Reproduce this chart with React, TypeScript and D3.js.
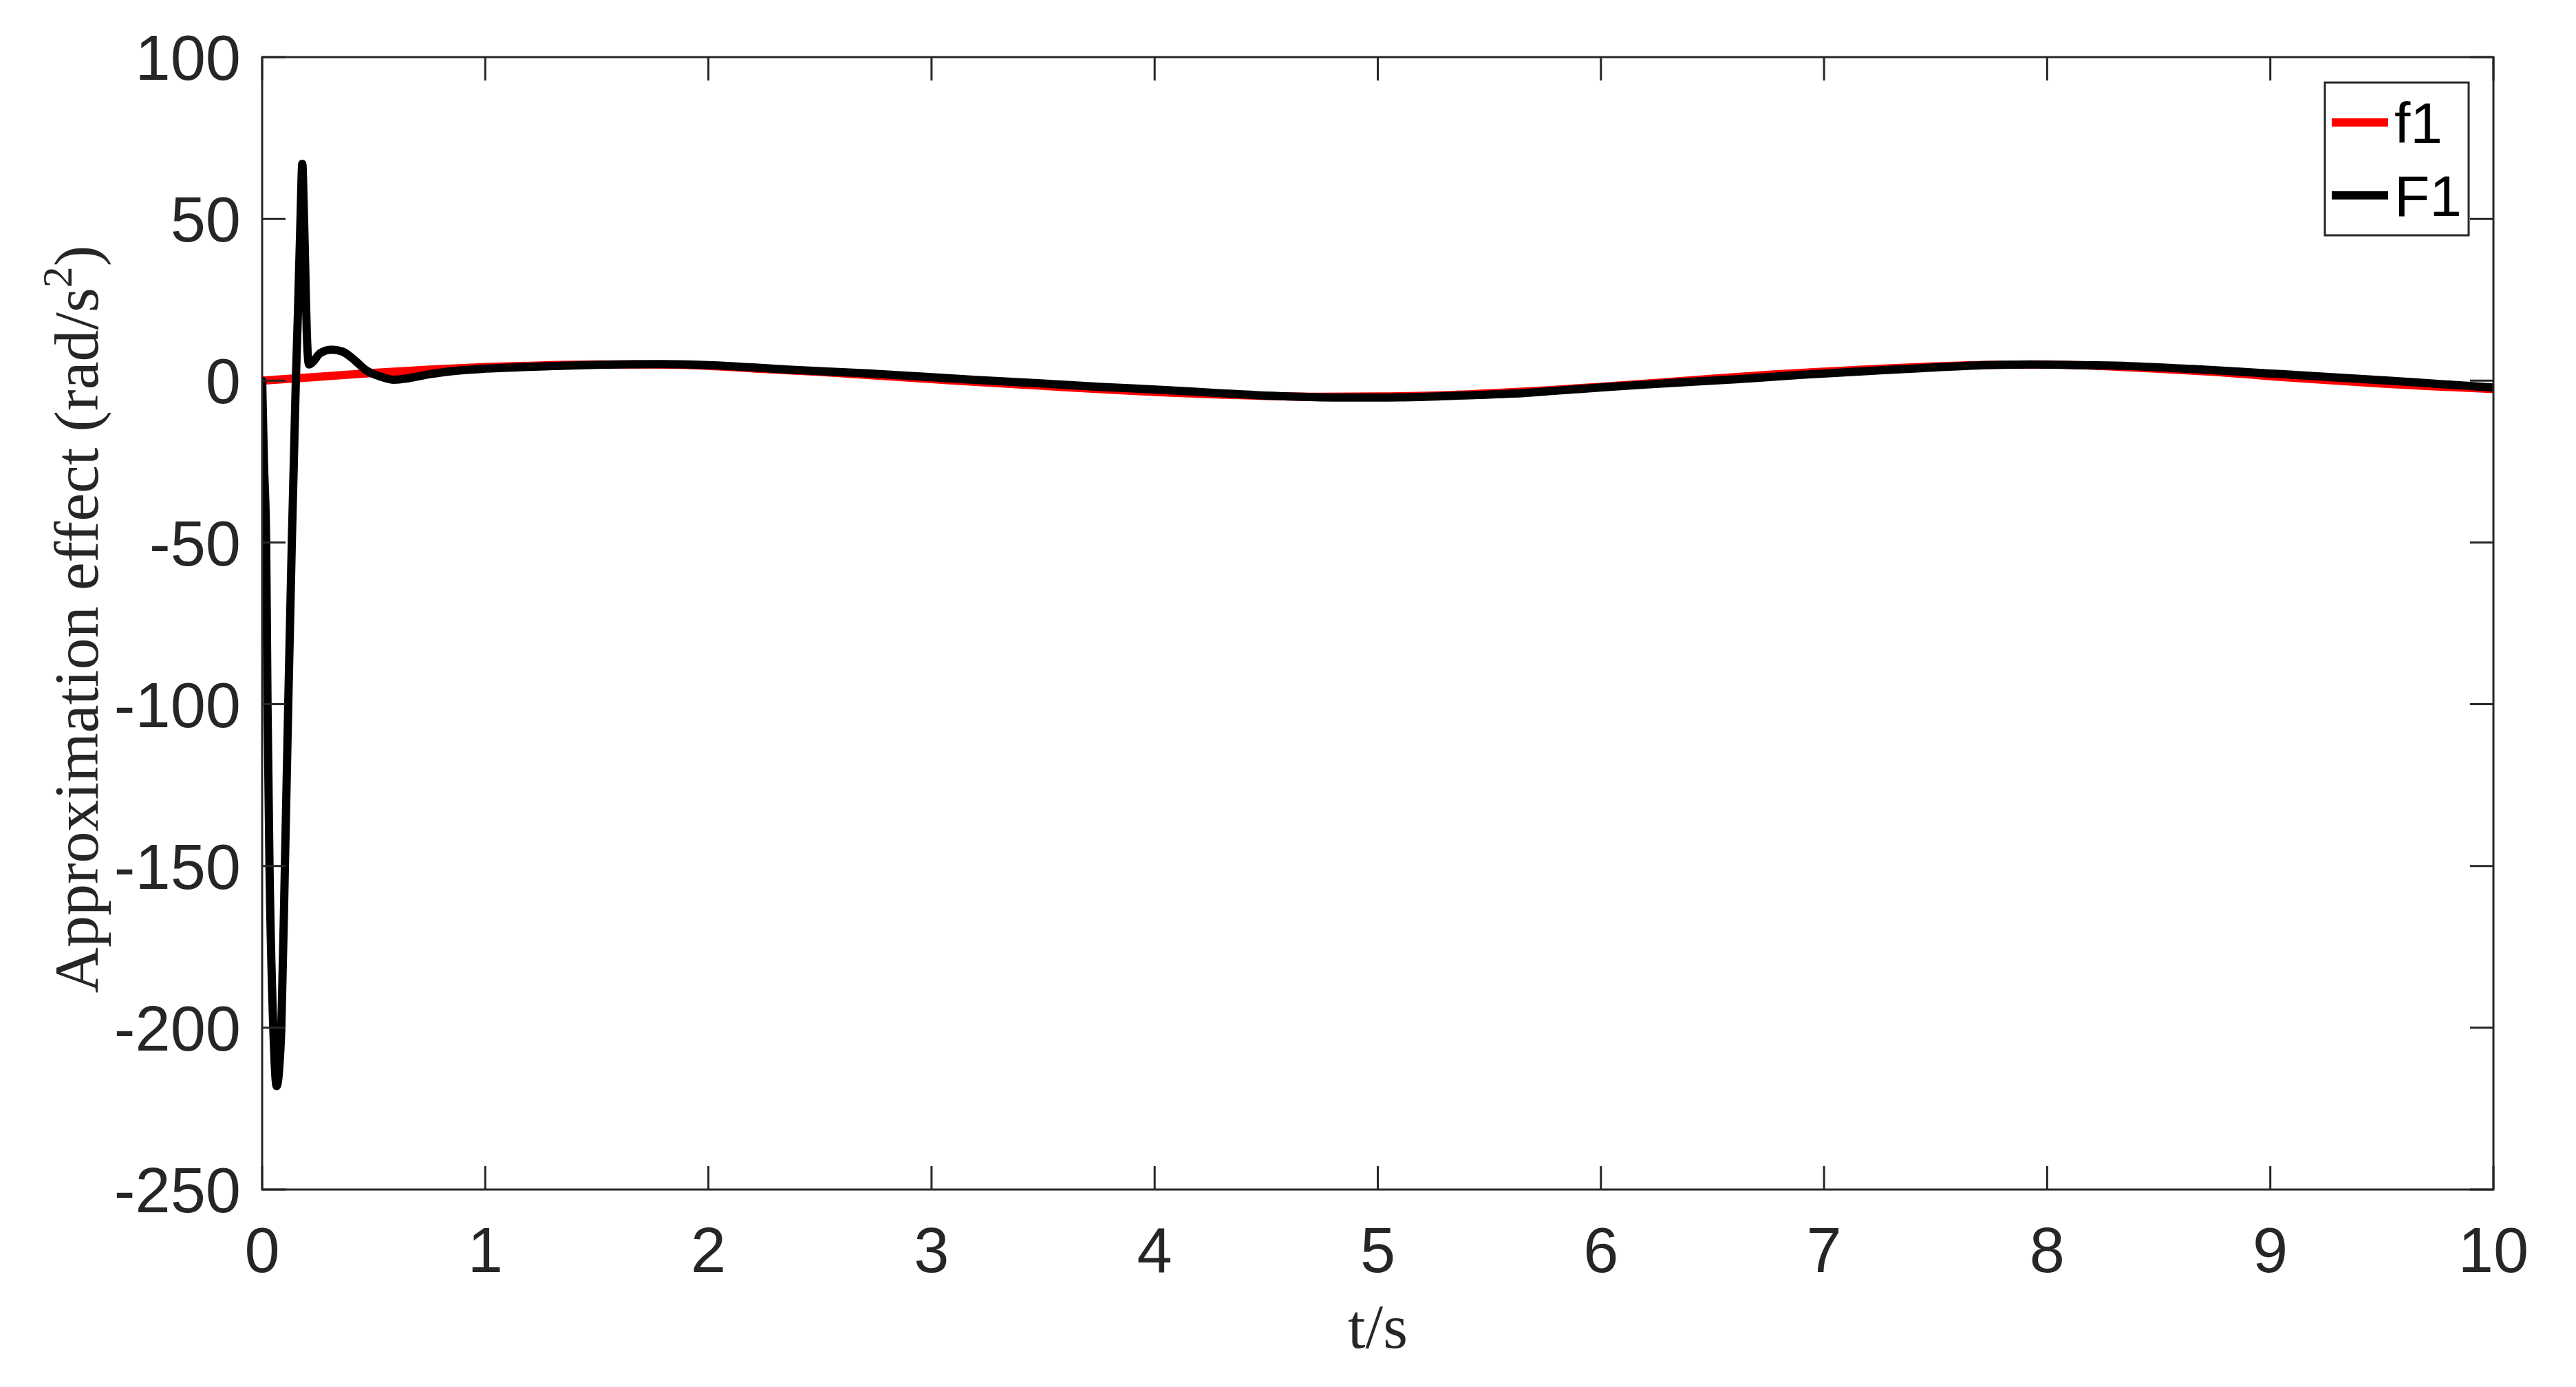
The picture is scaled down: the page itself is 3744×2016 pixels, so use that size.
import React, { useEffect } from "react";
import * as d3 from "d3";

// ---- data ----
const f1Time = [0, 0.25, 0.5, 0.75, 1.0, 1.25, 1.5, 1.75, 2.0, 2.25, 2.5, 2.75, 3.0, 3.25, 3.5, 3.75, 4.0, 4.25, 4.5, 4.75, 5.0, 5.25, 5.5, 5.75, 6.0, 6.25, 6.5, 6.75, 7.0, 7.25, 7.5, 7.75, 8.0, 8.25, 8.5, 8.75, 9.0, 9.25, 9.5, 9.75, 10.0];
const f1Value = [0, 1.2, 2.4, 3.4, 4.2, 4.7, 5.0, 5.0, 4.6, 3.6, 2.7, 1.6, 0.5, -0.6, -1.6, -2.6, -3.5, -4.2, -4.7, -5.0, -4.9, -4.6, -3.9, -3.0, -1.9, -0.7, 0.6, 1.8, 2.8, 3.7, 4.4, 4.9, 5.0, 4.5, 3.7, 2.7, 1.4, 0.2, -0.9, -1.8, -2.6];

const F1Time = [0, 0.008, 0.018, 0.024, 0.033, 0.05, 0.065, 0.076, 0.086, 0.102, 0.117, 0.133, 0.151, 0.16, 0.172, 0.18, 0.186, 0.193, 0.2, 0.21, 0.23, 0.26, 0.31, 0.36, 0.42, 0.46, 0.52, 0.59, 0.66, 0.75, 0.86, 1.0, 1.17, 1.3, 1.5, 1.79, 2.0, 2.39, 2.7, 2.95, 3.2, 3.49, 3.75, 4.05, 4.3, 4.6, 4.8, 5.0, 5.15, 5.45, 5.61, 5.8, 6.04, 6.3, 6.62, 6.9, 7.2, 7.5, 7.78, 7.93, 8.15, 8.37, 8.65, 8.95, 9.25, 9.53, 9.75, 10.0];
const F1Value = [0, -25, -50, -100, -150, -200, -218, -213, -200, -150, -100, -50, 0, 20, 50, 67, 55, 35, 15, 5, 6, 8.5, 9.6, 9, 6, 3.5, 1.5, 0.3, 0.8, 2, 3, 3.7, 4.2, 4.5, 4.9, 5.1, 4.8, 3.3, 2.3, 1.3, 0.2, -0.85, -1.9, -2.9, -3.9, -4.9, -5.2, -5.2, -5.1, -4.4, -4.0, -3.1, -1.9, -0.8, 0.5, 1.8, 3.0, 4.1, 4.9, 5.0, 4.8, 4.5, 3.6, 2.4, 1.2, 0, -1.0, -2.1];

const xTicks = [0, 1, 2, 3, 4, 5, 6, 7, 8, 9, 10];
const yTicks = [100, 50, 0, -50, -100, -150, -200, -250];
const seriesNames = ["f1", "F1"];
const seriesColors = ["#ff0000", "#000000"];

const W = 3744;
const H = 2016;
const L = 381, R = 3624, T = 83, B = 1729;
const axisColor = "#262626";
const tickLen = 34;

export default function App() {
  useEffect(() => {
    document.body.style.margin = "0";
  }, []);

  const x = d3.scaleLinear().domain([0, 10]).range([L, R]);
  const y = d3.scaleLinear().domain([-250, 100]).range([B, T]);

  const line = d3
    .line<[number, number]>()
    .x((d) => x(d[0]))
    .y((d) => y(d[1]))
    .curve(d3.curveMonotoneX);

  const f1Path = line(f1Time.map((t, i) => [t, f1Value[i]] as [number, number])) || "";
  const F1Path = line(F1Time.map((t, i) => [t, F1Value[i]] as [number, number])) || "";

  const tickFont = "Liberation Sans, Arial, Helvetica, sans-serif";
  const serif = "Liberation Serif, Times New Roman, serif";

  return (
    <svg width={W} height={H} style={{ position: "absolute", left: 0, top: 0, background: "#fff" }}>
      <rect x={0} y={0} width={W} height={H} fill="#fff" />
      <defs>
        <clipPath id="plotClip">
          <rect x={L} y={T} width={R - L} height={B - T} />
        </clipPath>
      </defs>

      {/* data */}
      <g clipPath="url(#plotClip)" fill="none" strokeLinejoin="round" strokeLinecap="round">
        <path d={f1Path} stroke={seriesColors[0]} strokeWidth={12} />
        <path d={F1Path} stroke={seriesColors[1]} strokeWidth={12} />
      </g>

      {/* ticks */}
      <g stroke={axisColor} strokeWidth={3}>
        {xTicks.map((t) => (
          <g key={"xt" + t}>
            <line x1={x(t)} x2={x(t)} y1={B} y2={B - tickLen} />
            <line x1={x(t)} x2={x(t)} y1={T} y2={T + tickLen} />
          </g>
        ))}
        {yTicks.map((v) => (
          <g key={"yt" + v}>
            <line x1={L} x2={L + tickLen} y1={y(v)} y2={y(v)} />
            <line x1={R} x2={R - tickLen} y1={y(v)} y2={y(v)} />
          </g>
        ))}
      </g>

      {/* box */}
      <rect x={L} y={T} width={R - L} height={B - T} fill="none" stroke={axisColor} strokeWidth={3} />

      {/* tick labels */}
      <g fill={axisColor} fontFamily={tickFont} fontSize={92}>
        {xTicks.map((t) => (
          <text key={"xl" + t} x={x(t)} y={1849} textAnchor="middle">
            {t}
          </text>
        ))}
        {yTicks.map((v) => (
          <text key={"yl" + v} x={350} y={y(v)} dy="0.36em" textAnchor="end">
            {v}
          </text>
        ))}
      </g>

      {/* axis labels */}
      <text x={(L + R) / 2} y={1959} textAnchor="middle" fontFamily={serif} fontSize={92} fill={axisColor}>
        t/s
      </text>
      <text
        transform={`translate(142, 900) rotate(-90)`}
        textAnchor="middle"
        fontFamily={serif}
        fontSize={92}
        fill={axisColor}
      >
        Approximation effect (rad/s
        <tspan fontSize={62} dy={-38}>2</tspan>
        <tspan dy={38}>)</tspan>
      </text>

      {/* legend */}
      <rect x={3379} y={120} width={209} height={222} fill="#fff" stroke={axisColor} strokeWidth={3} />
      {seriesNames.map((name, i) => {
        const ly = i === 0 ? 178 : 284;
        return (
          <g key={name}>
            <line x1={3389} x2={3471} y1={ly} y2={ly} stroke={seriesColors[i]} strokeWidth={12} />
            <text x={3480} y={ly} dy="0.36em" fontFamily={tickFont} fontSize={84} fill="#000">
              {name}
            </text>
          </g>
        );
      })}
    </svg>
  );
}
